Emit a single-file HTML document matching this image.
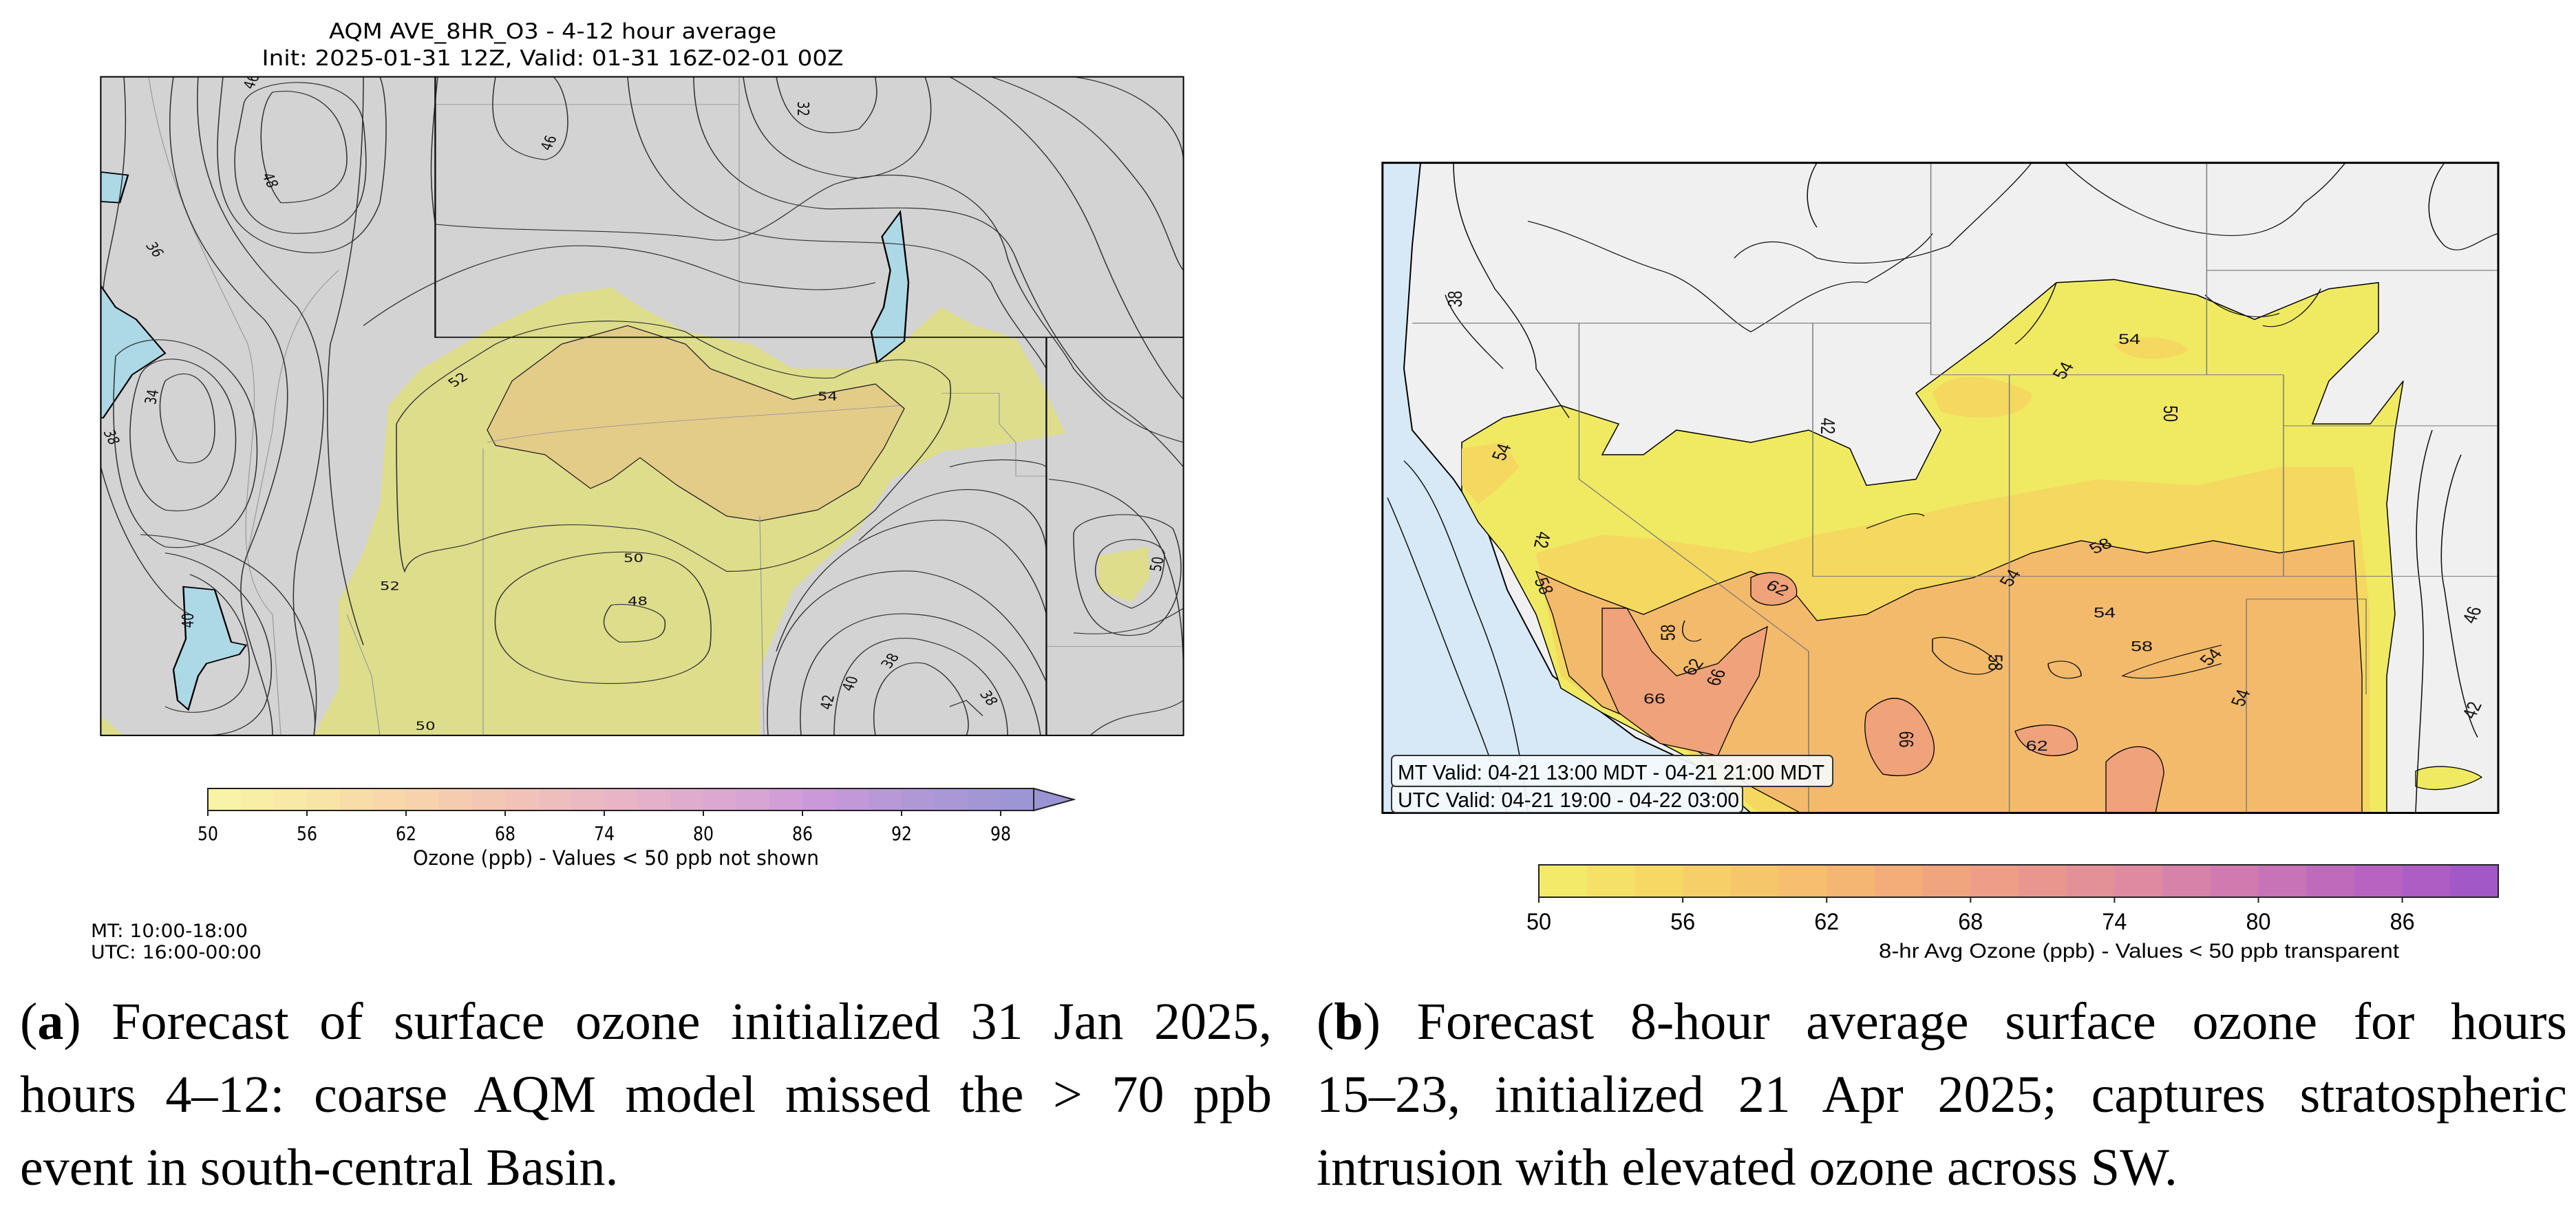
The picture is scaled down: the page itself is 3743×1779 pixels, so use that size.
<!DOCTYPE html>
<html><head><meta charset="utf-8">
<style>
html,body{margin:0;padding:0;background:#fff;}
#page{position:relative;width:3743px;height:1779px;overflow:hidden;background:#fff;}
svg{position:absolute;left:0;top:0;}
.cap{position:absolute;font-family:"Liberation Serif",serif;font-size:76px;line-height:106px;color:#000;text-align:justify;text-align-last:justify;white-space:nowrap;}
</style></head>
<body>
<div id="page">
<svg id="svg" width="3743" height="1779" viewBox="0 0 3743 1779" xmlns="http://www.w3.org/2000/svg">
<defs>
<clipPath id="clipL"><rect x="122" y="125" width="1311" height="1072"/></clipPath>
<clipPath id="clipR"><rect x="114" y="265" width="1351" height="1058"/></clipPath>
</defs>

<!-- LEFT PANEL -->
<g>
<text x="803" y="56" text-anchor="middle" font-family="DejaVu Sans, sans-serif" font-size="31" textLength="650" lengthAdjust="spacingAndGlyphs">AQM AVE_8HR_O3 - 4-12 hour average</text>
<text x="803" y="95" text-anchor="middle" font-family="DejaVu Sans, sans-serif" font-size="31" textLength="845" lengthAdjust="spacingAndGlyphs">Init: 2025-01-31 12Z, Valid: 01-31 16Z-02-01 00Z</text>
<g transform="scale(1.2,0.893)">
<g clip-path="url(#clipL)">
<rect x="122" y="125" width="1311" height="1072" fill="#d3d3d3"/>
<path fill="#dedd8c" d="M380,1197 L410,1120 L410,980 L440,900 L460,820 L470,660 L510,600 L600,530 L680,480 L740,468 L770,495 L830,540 L910,560 L960,600 L1040,600 L1090,560 L1140,500 L1180,530 L1230,550 L1260,620 L1290,705 L1230,720 L1140,735 L1080,780 L1040,860 L960,960 L920,1090 L920,1197 Z M600,1000 C600,930 700,890 780,900 C850,910 865,980 860,1050 C855,1100 780,1120 700,1110 C630,1100 595,1060 600,1000 Z"/>
<path fill="#dedd8c" d="M122,1165 L150,1197 L122,1197 Z"/>
<path fill="#dedd8c" d="M1330,905 L1390,890 L1392,940 L1370,980 L1330,960 Z"/>
<path fill="#e3cc88" stroke="#222" stroke-width="1.3" vector-effect="non-scaling-stroke" d="M590,700 L620,620 L680,560 L760,530 L830,560 L860,600 L960,650 L1060,625 L1095,665 L1070,730 L1040,790 L990,830 L920,848 L880,840 L820,790 L775,745 L740,780 L715,795 L660,740 L600,725 Z"/>
<g fill="#add8e6" stroke="#000" stroke-width="2" vector-effect="non-scaling-stroke">
<path d="M122,465 L140,500 L165,520 L200,575 L160,610 L125,680 L122,680 Z"/>
<path d="M122,280 L155,285 L145,330 L122,328 Z"/>
<path d="M222,955 L260,960 L280,1045 L298,1050 L290,1065 L250,1080 L240,1100 L228,1155 L215,1140 L210,1090 L225,1040 Z"/>
<path d="M1090,345 L1100,460 L1095,555 L1062,590 L1055,540 L1070,500 L1078,440 L1068,385 Z"/>
</g>
<g fill="none" stroke="#999" stroke-width="1" vector-effect="non-scaling-stroke">
<path d="M527,170 L895,170 M895,125 L895,549 M585,730 L585,1197 M920,840 L925,1197 M1140,640 L1210,640 L1210,690 L1230,720 L1230,775 L1267,775 M1267,1052 L1433,1052 M180,125 C200,300 250,420 300,560 C330,700 260,900 330,1000 L340,1197 M410,440 C360,500 340,560 330,700 L300,900 M420,1000 L450,1100 L460,1197 M590,720 C700,690 900,680 1090,660"/>
</g>
<g fill="none" stroke="#333" stroke-width="1.3" vector-effect="non-scaling-stroke">
<path d="M330,150 C380,140 420,180 420,260 C420,320 370,330 340,330 C310,280 310,180 330,150 Z"/>
<path d="M295,170 C300,125 430,110 440,200 C450,320 440,380 360,380 C300,380 280,320 285,240 Z"/>
<path d="M270,125 C260,250 250,360 330,400 C400,430 440,400 460,330 C470,250 470,160 460,125"/>
<path d="M200,620 C230,590 260,620 260,700 C260,750 240,760 215,750 C190,700 190,650 200,620 Z"/>
<path d="M170,610 C190,560 280,580 285,700 C290,800 250,840 200,830 C150,800 150,680 170,610 Z"/>
<path d="M140,580 C180,520 300,560 310,700 C320,840 270,900 200,890 C150,860 130,760 140,580 Z"/>
<path d="M150,125 C160,300 130,400 125,470"/>
<path d="M210,125 C190,300 240,420 320,520 C380,620 330,800 300,900 C270,1000 330,1100 330,1197"/>
<path d="M240,125 C230,320 300,420 360,500 C420,620 380,800 360,900 C340,1050 390,1120 380,1197"/>
<path d="M440,125 C440,330 420,470 400,560 C390,700 400,900 440,1050"/>
<path d="M122,760 C150,900 200,980 230,1000"/>
<path d="M230,935 C280,960 310,1040 300,1100 C290,1160 230,1170 200,1150"/>
<path d="M200,900 C300,920 350,1050 320,1150 C300,1197 260,1197 240,1197"/>
<path d="M170,870 C320,880 400,1000 380,1197"/>
<path d="M530,125 C520,250 520,300 527,365 C640,380 760,370 860,390 C920,400 960,330 1010,300 C1100,260 1200,300 1220,420 C1240,500 1280,550 1300,600 C1350,680 1380,700 1433,720"/>
<path d="M600,125 C590,200 600,250 660,260 C700,250 690,150 670,125"/>
<path d="M940,125 C950,200 980,230 1040,210 C1070,170 1060,140 1060,125"/>
<path d="M900,125 C910,230 950,280 1040,290 C1120,280 1140,200 1120,125"/>
<path d="M840,125 C840,260 900,330 1000,340 C1100,340 1200,320 1230,420 C1260,520 1300,600 1340,650 C1390,690 1420,740 1433,760"/>
<path d="M760,125 C770,300 850,380 960,390 C1060,400 1150,380 1200,460 C1220,520 1250,560 1267,600"/>
<path d="M1300,125 C1380,140 1430,200 1433,260"/>
<path d="M1200,125 C1300,170 1340,230 1380,300 C1410,350 1420,420 1433,440"/>
<path d="M1150,125 C1250,200 1300,300 1330,400 C1360,500 1400,600 1433,650"/>
<path d="M440,530 C520,450 620,400 700,400 C800,400 850,440 900,460 C960,470 1000,480 1060,460"/>
<path d="M480,690 C500,640 540,610 600,560 C660,520 760,510 830,540 C880,580 950,620 1010,615 C1060,580 1120,570 1150,620 C1160,700 1100,760 1060,830 C1000,900 950,930 880,930 C840,900 800,860 760,860 C700,850 640,850 580,880 C540,900 500,890 490,930 C480,900 480,760 480,690 Z"/>
<path d="M600,1000 C600,930 700,890 780,900 C850,910 865,980 860,1050 C855,1100 780,1120 700,1110 C630,1100 595,1060 600,1000 Z"/>
<path d="M740,985 C760,980 800,990 805,1010 C808,1040 790,1045 750,1045 C730,1030 725,1010 740,985 Z"/>
<path d="M1330,905 C1340,870 1400,870 1410,900 C1410,960 1390,980 1370,990 C1330,970 1320,940 1330,905 Z"/>
<path d="M1300,870 C1300,840 1380,820 1420,860 C1440,920 1430,1000 1390,1030 C1330,1050 1300,1000 1300,870 Z"/>
<path d="M1270,780 C1350,790 1433,830 1433,1100"/>
<path d="M1060,1197 C1050,1120 1080,1070 1120,1080 C1160,1100 1180,1170 1170,1197"/>
<path d="M1150,1150 L1170,1140 L1190,1165"/>
<path d="M1010,1197 C1010,1080 1050,1030 1110,1040 C1190,1060 1220,1130 1220,1197"/>
<path d="M970,1197 C960,1050 1030,990 1110,1000 C1200,1010 1250,1100 1260,1197"/>
<path d="M930,1197 C920,1020 1000,920 1110,930 C1210,950 1250,1060 1267,1110"/>
<path d="M940,1060 C980,900 1080,830 1170,850 C1230,870 1260,960 1267,1000"/>
<path d="M1040,880 C1100,800 1170,780 1220,810 C1260,830 1267,880 1267,900"/>
<path d="M1150,760 C1200,740 1260,750 1267,760"/>
<path d="M1300,1030 C1380,1040 1420,1000 1433,990"/>
<path d="M1320,1197 C1360,1150 1400,1170 1433,1140"/>
</g>
<g fill="none" stroke="#111" stroke-width="2" vector-effect="non-scaling-stroke">
<path d="M527,125 L527,549 L1433,549 M1267,549 L1267,1197"/>
</g>
<g font-family="DejaVu Sans, sans-serif" font-size="19" fill="#111">
<text x="540" y="625" transform="rotate(-40 553 615)">52</text>
<text x="990" y="652">54</text>
<text x="755" y="915">50</text>
<text x="760" y="985">48</text>
<text x="655" y="240" transform="rotate(-70 665 235)">46</text>
<text x="963" y="182" transform="rotate(90 973 175)">32</text>
<text x="175" y="410" transform="rotate(60 185 405)">36</text>
<text x="173" y="655" transform="rotate(-80 183 648)">34</text>
<text x="123" y="715" transform="rotate(70 133 710)">38</text>
<text x="218" y="1018" transform="rotate(-90 228 1012)">40</text>
<text x="460" y="960">52</text>
<text x="503" y="1188">50</text>
<text x="993" y="1150" transform="rotate(-80 1003 1145)">42</text>
<text x="1020" y="1120" transform="rotate(-70 1030 1115)">40</text>
<text x="1068" y="1083" transform="rotate(-60 1078 1078)">38</text>
<text x="1185" y="1140" transform="rotate(60 1195 1135)">38</text>
<text x="1390" y="927" transform="rotate(-80 1400 920)">50</text>
<text x="315" y="297" transform="rotate(70 325 292)">48</text>
<text x="295" y="140" transform="rotate(-70 305 135)">46</text>
</g>
</g>
<rect x="122" y="125" width="1311" height="1072" fill="none" stroke="#000" stroke-width="2" vector-effect="non-scaling-stroke"/>
</g>
<g id="cbarA"></g>
<text x="895" y="1257" text-anchor="middle" font-family="DejaVu Sans, sans-serif" font-size="29" textLength="590" lengthAdjust="spacingAndGlyphs">Ozone (ppb) - Values &lt; 50 ppb not shown</text>
<text x="132" y="1362" font-family="DejaVu Sans, sans-serif" font-size="27" textLength="228" lengthAdjust="spacingAndGlyphs">MT: 10:00-18:00</text>
<text x="132" y="1393" font-family="DejaVu Sans, sans-serif" font-size="27" textLength="248" lengthAdjust="spacingAndGlyphs">UTC: 16:00-00:00</text>
</g>

<!-- RIGHT PANEL -->
<g>
<g transform="translate(1872,0) scale(1.2,0.893)">
<g clip-path="url(#clipR)">
<rect x="114" y="265" width="1351" height="1058" fill="#f0f0f0"/>
<path fill="#d7e9f6" stroke="#000" stroke-width="2" vector-effect="non-scaling-stroke" d="M114,265 L160,265 L150,400 L140,600 L150,700 L200,780 L240,860 L265,960 L320,1100 L420,1200 L500,1250 L560,1323 L114,1323 Z"/>
<path fill="#f0ea62" stroke="#000" stroke-width="1.5" vector-effect="non-scaling-stroke" d="M210,720 L260,680 L330,660 L400,690 L380,740 L430,740 L470,700 L560,720 L630,700 L680,730 L700,790 L760,780 L790,700 L760,640 L800,600 L850,550 L930,460 L1000,455 L1100,480 L1170,520 L1260,470 L1320,460 L1320,540 L1260,620 L1240,690 L1310,690 L1350,620 L1340,700 L1330,820 L1340,1000 L1330,1100 L1330,1323 L560,1323 L480,1230 L380,1160 L330,1120 L300,1000 L260,900 L230,850 L210,800 Z"/>
<path fill="#f4d860" d="M300,900 L380,870 L460,880 L560,900 L640,870 L720,850 L820,820 L900,800 L980,780 L1100,790 L1200,760 L1290,760 L1310,1000 L1310,1323 L570,1323 L480,1220 L380,1150 L330,1100 Z M780,640 C800,600 860,610 900,640 C900,680 840,690 790,670 Z M1000,560 C1030,540 1080,550 1090,570 C1070,590 1010,590 1000,560 Z M210,730 L260,720 L280,760 L250,800 L230,820 L210,790 Z"/>
<path fill="#f4ba6c" stroke="#000" stroke-width="1.3" vector-effect="non-scaling-stroke" d="M300,930 L350,960 L430,1000 L500,960 L560,930 L610,960 L640,1010 L700,1000 L760,960 L830,940 L900,900 L960,880 L1040,900 L1120,880 L1200,900 L1290,880 L1300,1100 L1300,1323 L620,1323 L560,1280 L470,1200 L380,1150 L340,1100 L320,1000 Z"/>
<path fill="#f0a27a" stroke="#000" stroke-width="1.3" vector-effect="non-scaling-stroke" d="M380,990 L410,990 L440,1060 L470,1100 L520,1080 L550,1040 L580,1020 L570,1100 L540,1170 L520,1230 L450,1210 L400,1160 L380,1100 Z M560,940 C590,920 620,940 615,970 C600,990 570,990 560,970 Z M700,1160 C730,1120 760,1130 780,1200 C790,1250 760,1270 720,1260 C700,1230 695,1190 700,1160 Z M880,1190 C920,1170 960,1180 955,1220 C930,1240 890,1230 880,1190 Z M990,1240 C1020,1200 1060,1210 1060,1260 L1050,1323 L990,1323 Z"/>
<path fill="#f0ea62" stroke="#000" stroke-width="1.3" vector-effect="non-scaling-stroke" d="M1365,1255 C1390,1240 1430,1250 1445,1265 C1420,1285 1385,1290 1365,1280 Z"/>
<g fill="none" stroke="#111" stroke-width="1.3" vector-effect="non-scaling-stroke">
<path d="M200,265 C200,360 230,420 250,470 C280,520 300,560 300,600 C320,640 330,660 340,680"/>
<path d="M190,480 C200,520 230,560 260,600"/>
<path d="M290,360 C350,380 400,420 450,440 C500,460 530,520 560,540 C600,510 650,450 700,460 C740,430 770,400 780,380"/>
<path d="M540,420 C560,390 600,380 640,420 C700,440 760,420 800,400 C830,360 880,300 900,265"/>
<path d="M940,265 C980,320 1050,370 1110,380 C1160,390 1200,380 1230,330 C1260,300 1270,280 1280,265"/>
<path d="M640,265 C620,310 630,350 640,370"/>
<path d="M1400,265 C1380,300 1370,360 1400,400 C1420,420 1440,390 1465,380"/>
<path d="M1420,740 C1400,800 1390,900 1400,960 C1410,1050 1420,1150 1440,1200"/>
<path d="M1385,700 C1370,760 1360,850 1370,950 C1380,1050 1370,1150 1365,1323"/>
<path d="M140,750 C180,800 200,900 230,1000 C260,1100 280,1200 290,1323"/>
<path d="M120,810 C150,900 190,1050 220,1150 C250,1250 260,1300 265,1323"/>
<path d="M930,460 C920,500 900,540 880,560 M1110,480 C1140,520 1180,520 1200,510"/>
<path d="M700,860 C740,840 760,830 770,840 M480,1010 C470,1040 490,1050 500,1040"/>
<path d="M1130,1050 C1100,1060 1040,1080 1010,1100 C1040,1110 1080,1100 1130,1080"/>
<path d="M920,1080 C940,1070 960,1080 960,1100 C940,1110 920,1100 920,1080"/>
<path d="M780,1040 C800,1030 840,1050 860,1080 C850,1110 800,1100 780,1060 Z"/>
<path d="M1180,530 C1210,540 1240,500 1250,470"/>
</g>
<g fill="none" stroke="#777" stroke-width="1.2" vector-effect="non-scaling-stroke">
<path d="M150,526 L778,526 M352,526 L352,780 L630,1060 L630,1323 M635,526 L635,938 L1465,938 M778,265 L778,610 L1205,610 M1112,265 L1112,610 M1112,440 L1465,440 M1205,610 L1205,938 M1205,693 L1465,693 M873,610 L873,1323 M1160,975 L1305,975 L1305,1130 M1160,975 L1160,1323"/>
</g>
<g font-family="Liberation Sans, sans-serif" font-size="24" fill="#111">
<text x="1005" y="560">54</text><text x="925" y="615" transform="rotate(-60 935 605)">54</text>
<text x="970" y="900" transform="rotate(-30 977 890)">58</text><text x="975" y="1005">54</text>
<text x="1020" y="1060">58</text><text x="1105" y="1080" transform="rotate(-50 1115 1072)">54</text>
<text x="580" y="965" transform="rotate(30 593 955)">62</text><text x="445" y="1040" transform="rotate(-90 458 1030)">58</text>
<text x="475" y="1095" transform="rotate(-60 488 1085)">62</text><text x="505" y="1115" transform="rotate(-70 515 1105)">66</text>
<text x="430" y="1145">66</text><text x="300" y="960" transform="rotate(70 310 950)">58</text>
<text x="893" y="1222">62</text><text x="740" y="1200" transform="rotate(90 745 1195)">66</text>
<text x="250" y="745" transform="rotate(-70 260 740)">54</text><text x="843" y="1080" transform="rotate(90 853 1075)">58</text>
<text x="195" y="495" transform="rotate(-90 205 490)">38</text><text x="640" y="695" transform="rotate(90 650 690)">42</text>
<text x="1425" y="1010" transform="rotate(-70 1435 1005)">46</text><text x="1425" y="1165" transform="rotate(-70 1435 1160)">42</text>
<text x="1055" y="675" transform="rotate(90 1065 670)">50</text><text x="865" y="950" transform="rotate(-60 875 945)">54</text>
<text x="295" y="880" transform="rotate(100 305 875)">42</text><text x="1145" y="1145" transform="rotate(-70 1155 1140)">54</text>
</g>
</g>
<rect x="114" y="265" width="1351" height="1058" fill="none" stroke="#000" stroke-width="3" vector-effect="non-scaling-stroke"/>
</g>
<g>
<rect x="2022" y="1141" width="510" height="40" rx="6" fill="#f4f8fb" fill-opacity="0.92" stroke="#333" stroke-width="2"/>
<rect x="2022" y="1098" width="641" height="45" rx="6" fill="#f4f8fb" fill-opacity="0.92" stroke="#333" stroke-width="2"/>
<text x="2031" y="1133" font-family="Liberation Sans, sans-serif" font-size="31" textLength="620" lengthAdjust="spacingAndGlyphs">MT Valid:  04-21 13:00 MDT - 04-21 21:00 MDT</text>
<text x="2031" y="1173" font-family="Liberation Sans, sans-serif" font-size="31" textLength="496" lengthAdjust="spacingAndGlyphs">UTC Valid: 04-21 19:00 - 04-22 03:00</text>
</g>
<g id="cbarB"></g>
<text x="3108" y="1392" text-anchor="middle" font-family="Liberation Sans, sans-serif" font-size="30" textLength="756" lengthAdjust="spacingAndGlyphs">8-hr Avg Ozone (ppb) - Values &lt; 50 ppb transparent</text>
</g>
</svg>

<div class="cap" style="left:29px;top:1432px;width:1819px;">(<b>a</b>) Forecast of surface ozone initialized 31 Jan 2025,</div>
<div class="cap" style="left:29px;top:1538px;width:1819px;">hours 4–12: coarse AQM model missed the &gt; 70 ppb</div>
<div class="cap" style="left:29px;top:1644px;text-align:left;text-align-last:left;">event in south-central Basin.</div>
<div class="cap" style="left:1913px;top:1432px;width:1817px;">(<b>b</b>) Forecast 8-hour average surface ozone for hours</div>
<div class="cap" style="left:1913px;top:1538px;width:1817px;">15–23, initialized 21 Apr 2025; captures stratospheric</div>
<div class="cap" style="left:1913px;top:1644px;text-align:left;text-align-last:left;">intrusion with elevated ozone across SW.</div>
</div>

<script>
const ticksA = [50,56,62,68,74,80,86,92,98];
const levelsA = [50,100];
const colorsA = ["#f8f5a6","#f9e6a6","#f9d2ac","#f2c3b8","#e8b4c6","#dca8d2","#c998da","#ad98d6","#9a94d4"];
const ticksB = [50,56,62,68,74,80,86];
const levelsB = [50,90];
const colorsB = ["#f2ee6a","#f7d865","#f6c26c","#f4ac78","#ec9a8a","#df8aa0","#cc76b4","#b862c2","#9d56c8"];
const NS="http://www.w3.org/2000/svg";
function mk(tag,attrs,parent){const e=document.createElementNS(NS,tag);for(const k in attrs)e.setAttribute(k,attrs[k]);parent.appendChild(e);return e;}
function lerp(a,b,t){return a+(b-a)*t;}
function colorAt(cols,t){const n=cols.length-1;const i=Math.min(n-1,Math.floor(t*n));const f=t*n-i;
 const c1=cols[i],c2=cols[i+1];const p=s=>[1,3,5].map(j=>parseInt(s.substr(j,2),16));
 const a=p(c1),b=p(c2);return "rgb("+a.map((v,k)=>Math.round(lerp(v,b[k],f))).join(",")+")";}
function colorbar(gid,x0,x1,y0,y1,lv,ticks,cols,arrow,font,tickY,fs,tw){
 const g=document.getElementById(gid);
 const sx=v=>x0+(v-lv[0])/(lv[1]-lv[0])*(x1-x0);
 for(let v=lv[0];v<lv[1];v+=2){
  const r=mk('rect',{x:sx(v),y:y0,width:sx(v+2)-sx(v)+0.6,height:y1-y0,fill:colorAt(cols,(v-lv[0]+1)/(lv[1]-lv[0]))},g);
  
  
 }
 if(arrow){const p=mk('polygon',{points:`${x1},${y0} ${x1+58},${(y0+y1)/2} ${x1},${y1}`,fill:cols[cols.length-1],stroke:"#222","stroke-width":2},g);
  
  }
 const fr=mk('rect',{x:x0,y:y0,width:x1-x0,height:y1-y0,fill:"none",stroke:"#222","stroke-width":2},g);
 
 
 ticks.forEach(t=>{
  const x=sx(t);
  const l=mk('line',{x1:x,x2:x,y1:y1,y2:y1+8,stroke:"#222","stroke-width":2},g);
  
  
  const tx=mk('text',{x:x,y:tickY,"text-anchor":"middle","font-family":font,"font-size":fs,textLength:tw,lengthAdjust:"spacingAndGlyphs"},g);
  tx.textContent=String(t);
  
  
 });
}
colorbar('cbarA',302,1502,1146,1178,levelsA,ticksA,colorsA,true,"DejaVu Sans, sans-serif",1221,28,30);
colorbar('cbarB',2236,3630,1257,1304,levelsB,ticksB,colorsB,false,"Liberation Sans, sans-serif",1351,34,36);
</script>
</body></html>
